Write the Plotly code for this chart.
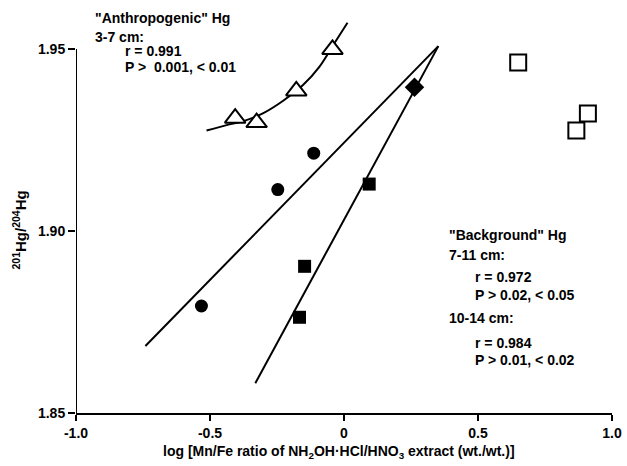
import plotly.graph_objects as go

# Anthropogenic Hg, 3-7 cm (open triangles) and fitted curve
tri_x = [-0.406, -0.326, -0.178, -0.043]
tri_y = [1.9310, 1.9298, 1.9385, 1.9499]
tri_fit_x = [-0.513, -0.438, -0.375, -0.301, -0.227, -0.153, -0.092, -0.040, 0.013]
tri_fit_y = [1.9276, 1.9291, 1.9302, 1.9324, 1.9358, 1.9401, 1.9451, 1.9511, 1.9572]

# Background Hg, 7-11 cm (filled circles) and regression line
circ_x = [-0.532, -0.247, -0.113]
circ_y = [1.8794, 1.9114, 1.9214]
circ_fit_x = [-0.741, 0.352]
circ_fit_y = [1.8684, 1.9508]

# Background Hg, 10-14 cm (filled squares + diamond) and regression line
sq_x = [-0.166, -0.147, 0.094]
sq_y = [1.8763, 1.8903, 1.9129]
dia_x = [0.263]
dia_y = [1.9395]
sq_fit_x = [-0.331, 0.352]
sq_fit_y = [1.8582, 1.9508]

# Open squares
osq_x = [0.650, 0.910, 0.867]
osq_y = [1.9463, 1.9323, 1.9276]

x_ticks = [-1.0, -0.5, 0, 0.5, 1.0]
x_tick_text = ["-1.0", "-0.5", "0", "0.5", "1.0"]
y_ticks = [1.85, 1.90, 1.95]
y_tick_text = ["1.85", "1.90", "1.95"]

FONT = "Liberation Sans, Arial, sans-serif"
fig = go.Figure()

line_style = dict(color="black", width=2)
fig.add_trace(go.Scatter(x=tri_fit_x, y=tri_fit_y, mode="lines", line=dict(color="black", width=2, shape="spline"), showlegend=False))
fig.add_trace(go.Scatter(x=circ_fit_x, y=circ_fit_y, mode="lines", line=line_style, showlegend=False))
fig.add_trace(go.Scatter(x=sq_fit_x, y=sq_fit_y, mode="lines", line=line_style, showlegend=False))

fig.add_trace(go.Scatter(x=tri_x, y=tri_y, mode="markers",
                         marker=dict(symbol="triangle-up", size=18, color="white",
                                     line=dict(color="black", width=2)), showlegend=False))
fig.add_trace(go.Scatter(x=circ_x, y=circ_y, mode="markers",
                         marker=dict(symbol="circle", size=13, color="black",
                                     line=dict(color="black", width=0)), showlegend=False))
fig.add_trace(go.Scatter(x=sq_x, y=sq_y, mode="markers",
                         marker=dict(symbol="square", size=13, color="black",
                                     line=dict(color="black", width=0)), showlegend=False))
fig.add_trace(go.Scatter(x=dia_x, y=dia_y, mode="markers",
                         marker=dict(symbol="diamond", size=15, color="black",
                                     line=dict(color="black", width=0)), showlegend=False))
fig.add_trace(go.Scatter(x=osq_x, y=osq_y, mode="markers",
                         marker=dict(symbol="square", size=16, color="white",
                                     line=dict(color="black", width=2)), showlegend=False))

# y axis line from 1.85 to 1.95 only
fig.add_shape(type="line", xref="x", yref="y", x0=-1.0, x1=-1.0, y0=1.85, y1=1.95,
              line=dict(color="black", width=2))

tick_font = dict(family=FONT, size=14, color="black", weight="bold")
fig.update_xaxes(range=[-1.0, 1.0], tickvals=x_ticks, ticktext=x_tick_text,
                 showline=True, linecolor="black", linewidth=2,
                 ticks="outside", ticklen=6, tickwidth=2, tickcolor="black",
                 showgrid=False, zeroline=False, tickfont=tick_font)
fig.update_yaxes(range=[1.85, 1.9621], tickvals=y_ticks, ticktext=y_tick_text,
                 showline=False, ticks="outside", ticklen=7, tickwidth=2, tickcolor="black",
                 showgrid=False, zeroline=False, tickfont=tick_font)

ann_font = dict(family=FONT, size=14, color="black", weight="bold")
texts = [
    ("\"Anthropogenic\" Hg", 93, 18),
    ("3-7 cm:", 93, 37),
    ("r = 0.991", 123, 51),
    ("P >  0.001, < 0.01", 123, 67),
    ("\"Background\" Hg", 450, 235),
    ("7-11 cm:", 450, 255),
    ("r = 0.972", 477, 277),
    ("P > 0.02, < 0.05", 477, 295),
    ("10-14 cm:", 450, 318),
    ("r = 0.984", 477, 343),
    ("P > 0.01, < 0.02", 477, 360),
]
W, H = 627, 466
L, R, T, B = 76, 10, 5, 53
pw, ph = W - L - R, H - T - B
for txt, px, py in texts:
    fig.add_annotation(text=txt, xref="paper", yref="paper",
                       x=(px - L) / pw, y=1 - (py - T) / ph,
                       xanchor="left", yanchor="middle", showarrow=False, font=ann_font)

fig.add_annotation(text="log [Mn/Fe ratio of NH<sub>2</sub>OH·HCl/HNO<sub>3</sub> extract (wt./wt.)]",
                   xref="paper", yref="paper", x=(341 - L) / pw, y=1 - (452 - T) / ph,
                   xanchor="center", yanchor="middle", showarrow=False,
                   font=dict(family=FONT, size=14, color="black", weight="bold"))
fig.add_annotation(text="<sup>201</sup>Hg/<sup>204</sup>Hg",
                   xref="paper", yref="paper", x=(18 - L) / pw, y=1 - (230 - T) / ph,
                   xanchor="center", yanchor="middle", textangle=-90, showarrow=False,
                   font=dict(family=FONT, size=15, color="black", weight="bold"))

fig.update_layout(width=W, height=H, margin=dict(l=L, r=R, t=T, b=B),
                  paper_bgcolor="white", plot_bgcolor="white", showlegend=False)

fig.write_html("out.html")
